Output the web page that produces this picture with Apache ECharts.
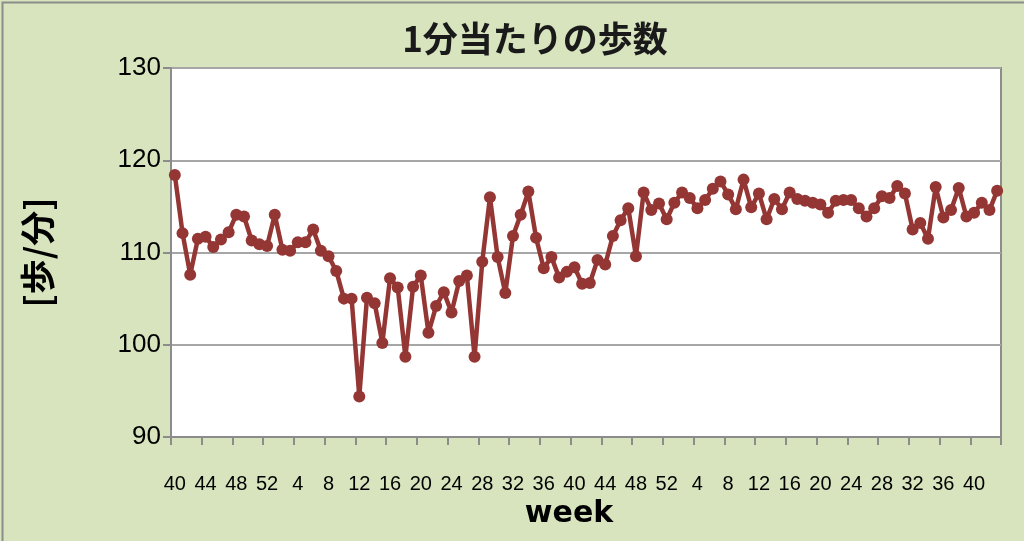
<!DOCTYPE html>
<html>
<head>
<meta charset="utf-8">
<script src="https://cdn.jsdelivr.net/npm/echarts@6/dist/echarts.min.js"></script>
<style>
html,body{margin:0;padding:0;background:#D7E4BD;}
#c{width:1024px;height:541px;box-sizing:border-box;}
</style>
</head>
<body>
<div id="c"></div>
<script>
const weeks = [40,41,42,43,44,45,46,47,48,49,50,51,52,
1,2,3,4,5,6,7,8,9,10,11,12,13,14,15,16,17,18,19,20,21,22,23,24,25,26,
27,28,29,30,31,32,33,34,35,36,37,38,39,40,41,42,43,44,45,46,47,48,49,50,51,52,
1,2,3,4,5,6,7,8,9,10,11,12,13,14,15,16,17,18,19,20,21,22,23,24,25,26,
27,28,29,30,31,32,33,34,35,36,37,38,39,40,41,42,43];
const stepsPerMin = [118.4,112.1,107.6,111.5,111.7,110.6,111.4,112.2,114.1,113.9,
111.3,110.9,110.7,114.1,110.3,110.2,111.1,111.1,112.5,110.2,
109.6,108.0,105.0,105.0,94.4,105.1,104.5,100.2,107.2,106.2,
98.7,106.3,107.5,101.3,104.2,105.7,103.5,106.9,107.5,98.7,
109.0,116.0,109.5,105.6,111.8,114.1,116.6,111.6,108.3,109.5,
107.3,107.9,108.4,106.6,106.7,109.2,108.7,111.8,113.5,114.8,
109.6,116.5,114.6,115.3,113.6,115.4,116.5,115.9,114.8,115.7,
116.9,117.7,116.3,114.7,117.9,114.9,116.4,113.6,115.8,114.7,
116.5,115.8,115.6,115.4,115.2,114.3,115.6,115.7,115.7,114.8,
113.9,114.8,116.1,115.9,117.2,116.4,112.5,113.2,111.5,117.1,
113.8,114.6,117.0,113.9,114.3,115.4,114.6,116.7];
const yTicks = {min: 90, max: 130, interval: 10};
const titleText = '1分当たりの歩数';
const yName = '[歩/分]';
const xName = 'week';

const chart = echarts.init(document.getElementById('c'), null, {renderer: 'canvas'});
chart.setOption({
  backgroundColor: '#D7E4BD',
  animation: false,
  title: {
    text: titleText, left: 530, top: 16, textAlign: 'center',
    textStyle: {fontFamily: 'Noto Sans CJK JP', fontWeight: 'bold', fontSize: 35, color: '#1a1a1a'}
  },
  graphic: [{
    type: 'rect', left: 0, top: 0,
    shape: {width: 1023, height: 540},
    style: {fill: 'none', stroke: '#8c8c8c', lineWidth: 2}, silent: true
  }],
  grid: {
    left: 171, right: 23, top: 68, bottom: 104,
    show: true, backgroundColor: '#ffffff', borderColor: '#8c8c8c', borderWidth: 2
  },
  xAxis: {
    type: 'category', data: weeks, boundaryGap: true,
    name: xName, nameLocation: 'middle', nameGap: 50,
    nameTextStyle: {fontFamily: 'DejaVu Sans', fontWeight: 'bold', fontSize: 30, color: '#000', padding: [0, 34, 0, 0]},
    axisLine: {show: true, lineStyle: {color: '#8c8c8c', width: 2}},
    axisTick: {show: true, interval: 3, length: 8, lineStyle: {color: '#8c8c8c', width: 2}},
    axisLabel: {interval: 3, margin: 37, fontFamily: 'Liberation Sans', fontSize: 20, color: '#000'},
    splitLine: {show: false}
  },
  yAxis: {
    type: 'value', min: yTicks.min, max: yTicks.max, interval: yTicks.interval,
    name: yName, nameLocation: 'middle', nameGap: 116, nameRotate: 90,
    nameTextStyle: {fontFamily: 'Noto Sans CJK JP', fontWeight: 'bold', fontSize: 35, color: '#000'},
    axisLine: {show: true, lineStyle: {color: '#8c8c8c', width: 2}},
    axisTick: {show: true, length: 8, lineStyle: {color: '#8c8c8c', width: 2}},
    axisLabel: {margin: 10, fontFamily: 'Liberation Sans', fontSize: 26, color: '#000'},
    splitLine: {show: true, lineStyle: {color: '#a6a6a6', width: 2}}
  },
  series: [{
    type: 'line', data: stepsPerMin,
    symbol: 'circle', symbolSize: 12, showAllSymbol: true,
    itemStyle: {color: '#943634'},
    lineStyle: {color: '#943634', width: 4.5}
  }]
});
</script>
</body>
</html>
